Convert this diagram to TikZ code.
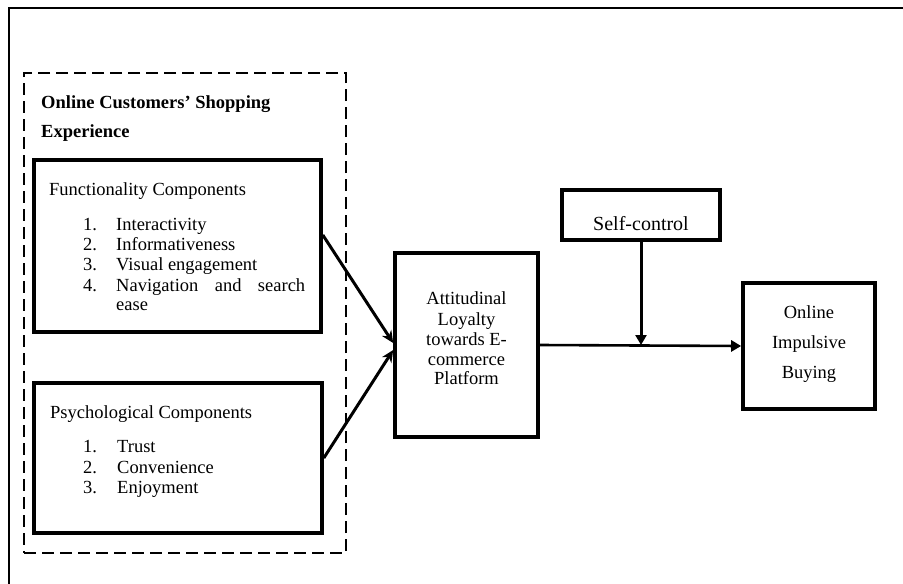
\documentclass[tikz,border=0pt]{standalone}
\usepackage{fontspec}
\setmainfont{Liberation Serif}
\usetikzlibrary{arrows.meta}
\tikzset{
  box/.style={draw, line width=3.6pt, inner sep=0pt},
  txt/.style={anchor=base west, inner sep=0pt, font=\fontsize{18.5}{20}\selectfont},
  ctxt/.style={anchor=base, inner sep=0pt, font=\fontsize{18.5}{20}\selectfont},
  conn/.style={line width=3pt},
  tip/.style={-{Stealth[length=12pt,width=11pt]}},
  ftip/.style={-{Triangle[length=10pt,width=11pt]}}
}
\begin{document}
\begin{tikzpicture}[x=1pt,y=-1pt]
\useasboundingbox (0,0) rectangle (903,584);
% outer frame (cropped: only top and left visible)
\coordinate (ftl) at (9,8);
\coordinate (ftr) at (905,8);
\coordinate (fbl) at (9,586);
\draw[line width=2.4pt] (ftr) -- (ftl) -- (fbl);
% dashed group
\node[draw, dash pattern=on 12pt off 6pt, line width=2pt, minimum width=322, minimum height=480, inner sep=0pt] (grp) at (185,313) {};
\node[txt, font=\fontsize{18.5}{20}\selectfont\bfseries] (t1) at (41,108) {Online Customers’ Shopping};
\node[txt, font=\fontsize{18.5}{20}\selectfont\bfseries] (t2) at (41,137) {Experience};
% functionality box
\node[box, minimum width=287, minimum height=172] (func) at (177.5,246) {};
\node[txt] (fh) at (49,195) {Functionality Components};
\node[txt] (fn1) at (83,230) {1.};
\node[txt] (fi1) at (116,230) {Interactivity};
\node[txt] (fn2) at (83,250) {2.};
\node[txt] (fi2) at (116,250) {Informativeness};
\node[txt] (fn3) at (83,270) {3.};
\node[txt] (fi3) at (116,270) {Visual engagement};
\node[txt] (fn4) at (83,291) {4.};
\node[txt] (fi4) at (116,291) {\hbox to 189pt{Navigation\hfill and\hfill search}};
\node[txt] (fi4b) at (116,310) {ease};
% psychological box
\node[box, minimum width=288, minimum height=150] (psy) at (178,458) {};
\node[txt] (ph) at (50,418) {Psychological Components};
\node[txt] (pn1) at (83,452) {1.};
\node[txt] (pi1) at (117,452) {Trust};
\node[txt] (pn2) at (83,473) {2.};
\node[txt] (pi2) at (117,473) {Convenience};
\node[txt] (pn3) at (83,493) {3.};
\node[txt] (pi3) at (117,493) {Enjoyment};
% attitudinal loyalty
\node[box, minimum width=143, minimum height=184] (att) at (466.5,345) {};
\node[ctxt] (a1) at (466.5,304) {Attitudinal};
\node[ctxt] (a2) at (466.5,325) {Loyalty};
\node[ctxt] (a3) at (466.5,345) {towards E-};
\node[ctxt] (a4) at (466.5,365) {commerce};
\node[ctxt] (a5) at (466.5,384) {Platform};
% self-control
\node[box, minimum width=158, minimum height=50] (self) at (641,215) {};
\node[ctxt, font=\fontsize{20}{22}\selectfont] (s1) at (641,230) {Self-control};
% online impulsive buying
\node[box, minimum width=132, minimum height=126] (imp) at (809,346) {};
\node[ctxt] (i1) at (809,318) {Online};
\node[ctxt] (i2) at (809,348) {Impulsive};
\node[ctxt] (i3) at (809,378) {Buying};
% connectors
\draw[conn, tip] ([yshift=11pt]func.east) -- ([yshift=2pt]att.west);
\draw[conn, tip] (psy.east) -- ([yshift=-5pt]att.west);
\draw[line width=2.6pt, ftip] (att.east) -- (imp.west);
\draw[conn, ftip] (self.south) -- (self.south |- att.east);
\end{tikzpicture}
\end{document}
